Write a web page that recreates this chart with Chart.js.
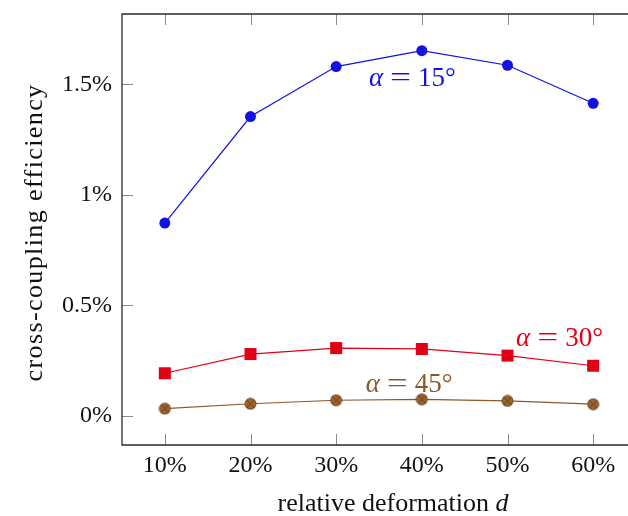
<!DOCTYPE html>
<html>
<head>
<meta charset="utf-8">
<script src="https://cdn.jsdelivr.net/npm/chart.js@4"></script>
<style>
  html, body { margin: 0; padding: 0; background: #fff; overflow: hidden; }
  #wrap { width: 628px; height: 516px; overflow: hidden; }
  canvas { display: block; }
</style>
</head>
<body>
<div id="wrap"><canvas id="c" width="636" height="516" style="width:636px;height:516px"></canvas></div>
<script>
// relative deformation d (%)
const deformation = [10, 20, 30, 40, 50, 60];
// cross-coupling efficiency (%) for each tilt angle
const eff15 = [0.872, 1.354, 1.580, 1.652, 1.586, 1.414];
const eff30 = [0.192, 0.279, 0.306, 0.302, 0.272, 0.226];
const eff45 = [0.032, 0.054, 0.070, 0.074, 0.067, 0.052];
// axis ticks
const xTicks = [10, 20, 30, 40, 50, 60];
const yTicks = [0, 0.5, 1, 1.5];
const yTickLabels = ['0%', '0.5%', '1%', '1.5%'];

const FONT = '"Liberation Serif", "DejaVu Serif", serif';
const BLUE = 'rgb(18,18,228)';
const RED = 'rgb(226,0,22)';
const BROWN = 'rgb(140,88,42)';

// circle with a cross inside (otimes-style marker)
function otimesMarker(r, fill, stroke) {
  const s = Math.ceil(2 * r + 2);
  const cv = document.createElement('canvas');
  cv.width = s; cv.height = s;
  const g = cv.getContext('2d');
  const c = s / 2;
  g.beginPath();
  g.arc(c, c, r, 0, Math.PI * 2);
  g.fillStyle = fill;
  g.fill();
  g.lineWidth = 0.9;
  g.strokeStyle = stroke;
  g.stroke();
  const d = r * Math.SQRT1_2;
  g.beginPath();
  g.moveTo(c - d, c - d); g.lineTo(c + d, c + d);
  g.moveTo(c - d, c + d); g.lineTo(c + d, c - d);
  g.stroke();
  return cv;
}

const toPts = ys => deformation.map((x, i) => ({ x: x, y: ys[i] }));

// frame, inward ticks, axis titles and curve labels
const decorations = {
  id: 'decorations',
  afterDraw(chart) {
    const { ctx, chartArea: a, scales: { x, y } } = chart;
    ctx.save();
    // inward tick marks
    ctx.strokeStyle = '#8a8a8a';
    ctx.lineWidth = 1;
    const tl = 11;
    ctx.beginPath();
    xTicks.forEach(v => {
      const px = Math.round(x.getPixelForValue(v)) + 0.5;
      ctx.moveTo(px, a.bottom); ctx.lineTo(px, a.bottom - tl);
      ctx.moveTo(px, a.top); ctx.lineTo(px, a.top + tl);
    });
    yTicks.forEach(v => {
      const py = Math.round(y.getPixelForValue(v)) + 0.5;
      ctx.moveTo(a.left, py); ctx.lineTo(a.left + tl, py);
    });
    ctx.stroke();
    // frame
    ctx.strokeStyle = '#2a2a2a';
    ctx.lineWidth = 1.3;
    ctx.beginPath();
    ctx.moveTo(a.right + 2, a.top); ctx.lineTo(a.left, a.top);
    ctx.lineTo(a.left, a.bottom); ctx.lineTo(a.right + 2, a.bottom);
    ctx.stroke();

    // y axis title
    ctx.fillStyle = '#111';
    ctx.font = '26px ' + FONT;
    ctx.textAlign = 'center';
    ctx.textBaseline = 'alphabetic';
    ctx.save();
    ctx.letterSpacing = '1.4px';
    ctx.translate(42, (a.top + a.bottom) / 2 + 3);
    ctx.rotate(-Math.PI / 2);
    ctx.fillText('cross-coupling efficiency', 0, 0);
    ctx.restore();

    // x axis title: regular text followed by italic d
    ctx.textAlign = 'left';
    const t1 = 'relative deformation ';
    ctx.font = '26px ' + FONT;
    const w1 = ctx.measureText(t1).width;
    ctx.font = 'italic 26px ' + FONT;
    const w2 = ctx.measureText('d').width;
    const sx = 393 - (w1 + w2) / 2;
    ctx.font = '26px ' + FONT;
    ctx.fillText(t1, sx, 511);
    ctx.font = 'italic 26px ' + FONT;
    ctx.fillText('d', sx + w1, 511);

    // curve labels: italic alpha, wide equals sign, angle
    const labels = chart.options.plugins.decorations.labels;
    const gap = 7, eqW = 21;
    labels.forEach(l => {
      const cx = x.getPixelForValue(l.x);
      const base = y.getPixelForValue(l.y) + 9;
      ctx.font = 'italic 27px ' + FONT;
      const wa = ctx.measureText('\u03b1').width;
      ctx.font = '27px ' + FONT;
      const weq = ctx.measureText('=').width;
      const ang = l.angle + '\u00b0';
      const wn = ctx.measureText(ang).width;
      let px = cx - (wa + gap + eqW + gap + wn) / 2;
      ctx.fillStyle = l.color;
      ctx.font = 'italic 27px ' + FONT;
      ctx.fillText('\u03b1', px, base);
      px += wa + gap;
      ctx.font = '27px ' + FONT;
      ctx.save();
      ctx.translate(px, base);
      ctx.scale(eqW / weq, 1);
      ctx.fillText('=', 0, 0);
      ctx.restore();
      px += eqW + gap;
      ctx.fillText(ang, px, base);
    });
    ctx.restore();
  }
};

new Chart(document.getElementById('c'), {
  type: 'line',
  data: {
    datasets: [
      {
        label: '\u03b1 = 15\u00b0',
        data: toPts(eff15),
        borderColor: BLUE, backgroundColor: BLUE,
        borderWidth: 1.2,
        pointStyle: 'circle', pointRadius: 5.5,
        pointBorderWidth: 0
      },
      {
        label: '\u03b1 = 30\u00b0',
        data: toPts(eff30),
        borderColor: RED, backgroundColor: RED,
        borderWidth: 1.2,
        pointStyle: 'rect', pointRadius: 8.5,
        pointBorderWidth: 0
      },
      {
        label: '\u03b1 = 45\u00b0',
        data: toPts(eff45),
        borderColor: BROWN, backgroundColor: BROWN,
        borderWidth: 1.2,
        pointStyle: otimesMarker(5.5, 'rgb(156,98,48)', 'rgb(100,60,25)'),
        pointRadius: 6
      }
    ]
  },
  options: {
    responsive: false,
    animation: false,
    events: [],
    layout: { autoPadding: false, padding: { top: 14, right: 0, left: 0, bottom: 0 } },
    plugins: {
      legend: { display: false },
      tooltip: { enabled: false },
      decorations: {
        labels: [
          { x: 38.9, y: 1.531, angle: 15, color: BLUE },
          { x: 56.08, y: 0.358, angle: 30, color: RED },
          { x: 38.52, y: 0.150, angle: 45, color: BROWN }
        ]
      }
    },
    scales: {
      x: {
        type: 'linear',
        min: 5, max: 65,
        grid: { display: false, drawTicks: false },
        border: { display: false },
        afterBuildTicks: s => { s.ticks = xTicks.map(v => ({ value: v })); },
        afterFit: s => { s.height = 71; s.paddingLeft = 0; s.paddingRight = 0; },
        ticks: {
          autoSkip: false, maxRotation: 0,
          padding: 6,
          color: '#111',
          font: { family: FONT, size: 24 },
          callback: v => v + '%'
        }
      },
      y: {
        type: 'linear',
        min: -0.1326, max: 1.818,
        grid: { display: false, drawTicks: false },
        border: { display: false },
        afterBuildTicks: s => { s.ticks = yTicks.map(v => ({ value: v })); },
        afterFit: s => { s.width = 122; s.paddingTop = 0; s.paddingBottom = 0; },
        ticks: {
          autoSkip: false,
          padding: 10,
          color: '#111',
          font: { family: FONT, size: 24 },
          callback: v => yTickLabels[yTicks.indexOf(v)]
        }
      }
    }
  },
  plugins: [decorations]
});
</script>
</body>
</html>
